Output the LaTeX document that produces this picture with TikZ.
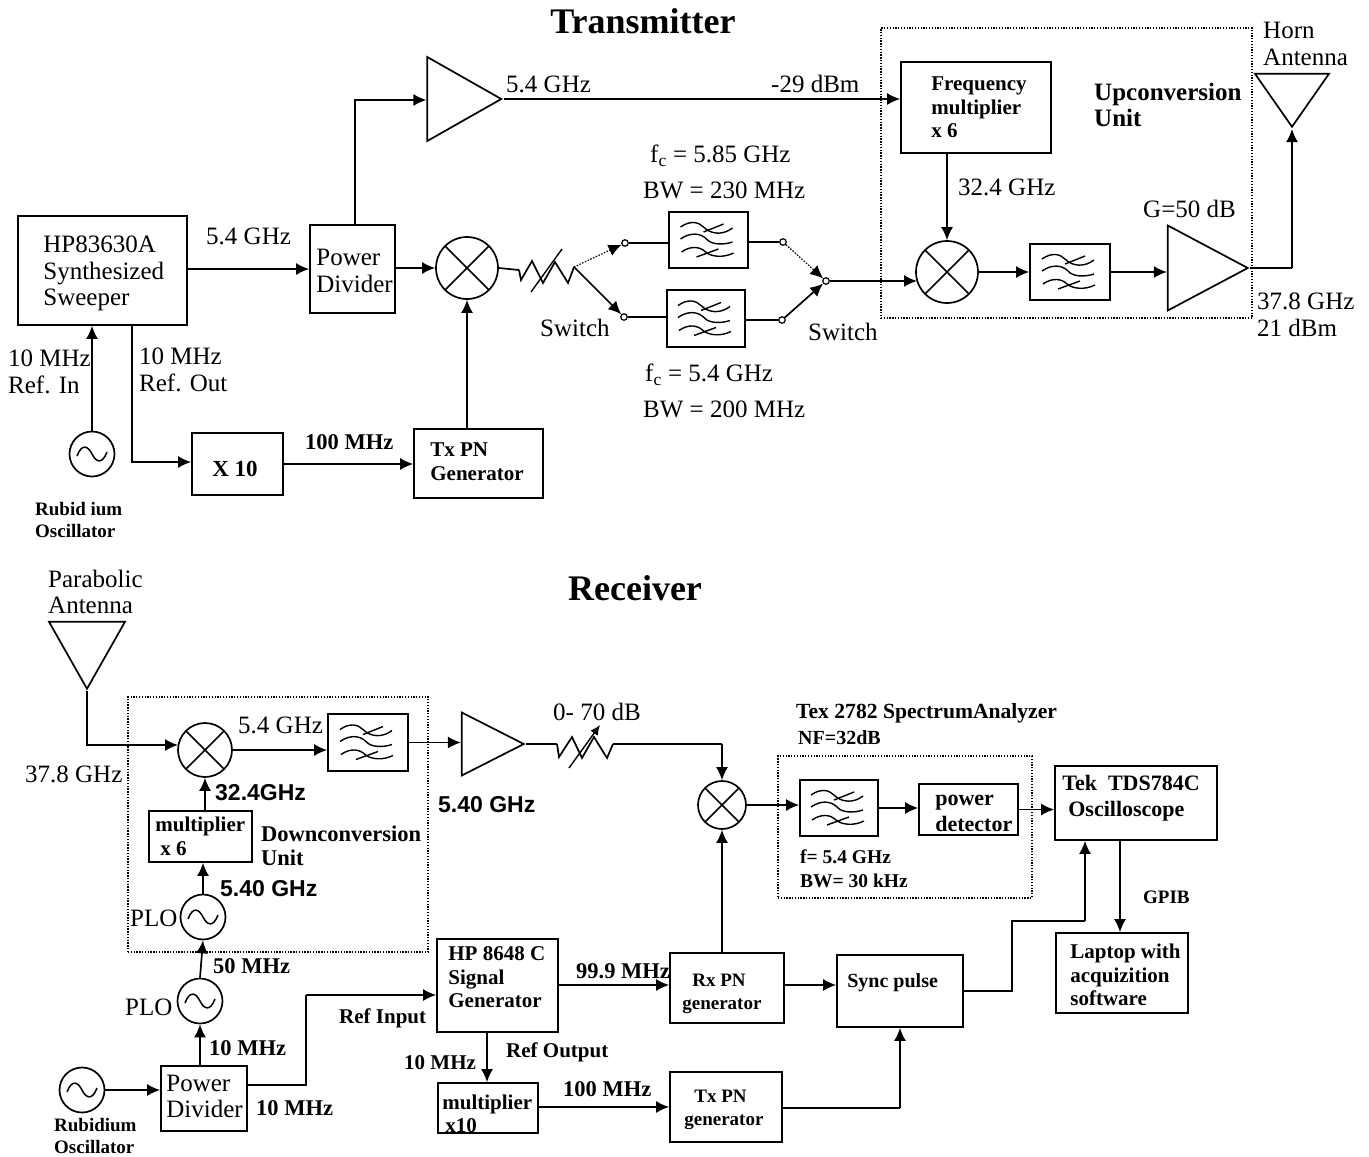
\documentclass[tikz,border=0pt]{standalone}
\usepackage{fontspec}
\setmainfont{Liberation Serif}
\newfontfamily\hvfam{Liberation Sans}
\usetikzlibrary{arrows.meta,calc,shapes.geometric}
\newcommand\tR{\fontsize{25}{26.5}\selectfont}
\newcommand\tT{\fontsize{36}{38}\selectfont\bfseries}
\newcommand\tB{\fontsize{21}{23.5}\selectfont\bfseries}
\newcommand\tC{\fontsize{19}{22.5}\selectfont\bfseries}
\newcommand\tE{\fontsize{19.5}{24}\selectfont\bfseries}
\newcommand\tF{\fontsize{22}{25.5}\selectfont\bfseries}
\newcommand\tU{\fontsize{25}{26}\selectfont\bfseries}
\newcommand\tD{\fontsize{22.5}{23.5}\selectfont\bfseries}
\newcommand\tS{\fontsize{23}{25}\selectfont\hvfam\bfseries}
\tikzset{
  wire/.style={line width=1.7pt},
  arr/.style={wire,-{Latex[length=13pt,width=12pt]}},
  dotarr/.style={line width=1.2pt,dash pattern=on 1.5pt off 1.5pt,-{Latex[length=13pt,width=12pt]}},
  boxn/.style={draw,line width=1.7pt,inner sep=0pt},
  dotbox/.style={draw,line width=1.1pt,dash pattern=on 1.3pt off 1.5pt,inner sep=0pt},
  lbl/.style={anchor=west,inner sep=0pt,align=left},
  mixer/.style={draw,circle,line width=1.7pt,inner sep=0pt,path picture={
    \draw[line width=1.7pt] (path picture bounding box.north west)--(path picture bounding box.south east);
    \draw[line width=1.7pt] (path picture bounding box.north east)--(path picture bounding box.south west);}},
  oscn/.style={draw,circle,line width=1.7pt,inner sep=0pt,minimum size=45pt,path picture={
    \draw[line width=1.5pt,shift={(path picture bounding box.center)}]
      (-15,2) .. controls (-10,-11) and (-4,-8) .. (0,0) .. controls (4,8) and (10,11) .. (15,-2);}},
  amp/.style={draw,line width=1.7pt,isosceles triangle,isosceles triangle stretches,inner sep=0pt,anchor=apex},
  sw/.style={draw,circle,line width=1.2pt,inner sep=0pt,minimum size=6.5pt,fill=white},
}
% region node from its corners
\newcommand\RG[6]{%
  \pgfmathsetmacro\myCx{(#2+#4)/2}\pgfmathsetmacro\myCy{(#3+#5)/2}%
  \pgfmathsetmacro\myW{#4-#2}\pgfmathsetmacro\myH{#5-#3}%
  \node[#6,minimum width=\myW pt,minimum height=\myH pt] (#1) at (\myCx,\myCy) {};}
% box with left aligned text at an offset from its west side
\newcommand\BX[8]{\RG{#1}{#2}{#3}{#4}{#5}{boxn}%
  \node[lbl,font=#7] (#1-t) at ($(#1.west)+(#6)$) {#8};}
% filter box
\newcommand\FLT[5]{\RG{#1}{#2}{#3}{#4}{#5}{boxn}%
  \begin{scope}[shift={(#1.center)},line width=1.4pt]
    \draw (-28,-13) .. controls (-18,-20) and (-10,-18) .. (-5,-13) .. controls (3,-5) and (15,-5) .. (24,-12);
    \draw (-28,-1) .. controls (-18,-8) and (-8,-7) .. (-2,-1) .. controls (3,5) and (15,5) .. (24,2);
    \draw (-27,12) .. controls (-17,5) and (-8,7) .. (-3,12) .. controls (3,17) and (15,18) .. (25,13);
    \draw (-5,-8)--(15,-16);
    \draw (-12,17)--(10,9);
  \end{scope}}
\newcommand\LB[5]{\node[lbl,font=#4] (#1) at (#2,#3) {#5};}
\begin{document}
\begin{tikzpicture}[x=1pt,y=-1pt]
\useasboundingbox (0,0) rectangle (1369,1157);
\fill[white] (0,0) rectangle (1369,1157);
% ===== Transmitter =====
\node[font=\tT,inner sep=0pt] (title1) at (643,21) {Transmitter};
\RG{upc}{881}{28}{1252}{318}{dotbox}
\BX{hp}{18}{216}{187}{325}{26,3}{\tR}{HP83630A\\Synthesized\\Sweeper}
\BX{pd}{310}{225}{395}{313}{7,2}{\tR}{Power\\Divider}
\BX{fm}{901}{62}{1051}{153}{31,0}{\tB}{Frequency\\multiplier\\x 6}
\BX{txpn}{414}{429}{543}{498}{17,-2}{\tB}{Tx PN\\Generator}
\BX{xten}{192}{433}{283}{495}{21,5}{\fontsize{23}{25}\selectfont\bfseries}{X 10}
\FLT{f1}{669}{212}{748}{268}
\FLT{f2}{667}{290}{745}{347}
\FLT{f3}{1030}{244}{1110}{300}
\node[mixer,minimum size=62pt] (m1) at (467,268) {};
\node[mixer,minimum size=62pt] (m2) at (947,272) {};
\node[oscn] (o1) at (92,454) {};
\node[amp,minimum width=84pt,minimum height=74pt] (a1) at (503.5,99) {};
\node[amp,minimum width=85pt,minimum height=80pt] (a2) at (1250,268) {};
\node[amp,shape border rotate=270,minimum width=74pt,minimum height=53pt] (horn) at (1292,129) {};
\node[sw] (s1) at (625,243) {};
\node[sw] (s2) at (624,317) {};
\node[sw] (s3) at (783,242) {};
\node[sw] (s4) at (782,320) {};
\node[sw] (s5) at (826,281) {};
\coordinate (at1a) at (519,270);
\coordinate (at1b) at (574,267);
\coordinate (h1) at (355,100);
\coordinate (c1) at (1292,268);
\coordinate (c2) at (132,462);
\coordinate (c3) at (917,281);
% connectors
\draw[arr] (hp.east |- pd.west) -- (pd.west);
\draw[arr] (h1 |- pd.north) -- (h1) -- (a1.west |- h1);
\draw[arr] (a1.apex) -- (fm.west |- a1.apex);
\draw[arr] (pd.east |- m1) -- (m1.west);
\draw[wire] (m1.east) -- (at1a);
\draw[wire] (at1a) -- (521,280) -- (532,261) -- (543,283) -- (555,262) -- (568,283) -- (at1b);
\draw[line width=1.4pt] (531,292) -- (562,249);
\draw[dotarr] (at1b) -- (s1);
\draw[arr] (at1b) -- (s2);
\draw[wire] (s1) -- (f1.west |- s1);
\draw[wire] (s2) -- (f2.west |- s2);
\draw[wire] (f1.east |- s3) -- (s3);
\draw[wire] (f2.east |- s4) -- (s4);
\draw[dotarr] (s3) -- (s5);
\draw[arr] (s4) -- (s5);
\draw[arr] (s5) -- (c3);
\draw[arr] (fm.south -| m2) -- (m2.north);
\draw[arr] (m2.east) -- (f3.west |- m2);
\draw[arr] (f3.east) -- (a2.west |- f3.east);
\draw[wire] (a2.apex) -- (c1);
\draw[arr] (c1) -- (horn.apex);
\draw[arr] (m1.south |- txpn.north) -- (m1.south);
\draw[arr] (xten.east) -- (txpn.west |- xten.east);
\draw[arr] (o1.north) -- (o1.north |- hp.south);
\draw[arr] (c2 |- hp.south) -- (c2) -- (xten.west |- c2);
% labels
\LB{l1}{206}{236}{\tR}{5.4 GHz}
\LB{l2}{506}{84}{\tR}{5.4 GHz}
\LB{l3}{771}{84}{\tR}{-29 dBm}
\LB{l4}{1094}{105}{\tU}{Upconversion\\Unit}
\LB{l5}{1263}{44}{\tR}{Horn\\Antenna}
\LB{l6}{958}{187}{\tR}{32.4 GHz}
\LB{l7}{1143}{209}{\tR}{G=50 dB}
\LB{l8}{1257}{315}{\tR}{37.8 GHz\\21 dBm}
\LB{l9}{8}{372}{\tR}{10 MHz\\Ref. In}
\LB{l10}{139}{370}{\tR}{10 MHz\\Ref. Out}
\LB{l11}{305}{442}{\tD}{100 MHz}
\LB{l12}{35}{520}{\tC}{Rubid ium\\Oscillator}
\LB{l13}{540}{328}{\tR}{Switch}
\LB{l14}{808}{332}{\tR}{Switch}
\LB{l15}{650}{156}{\tR}{f\textsubscript{c} = 5.85 GHz}
\LB{l16}{643}{190}{\tR}{BW = 230 MHz}
\LB{l17}{645}{375}{\tR}{f\textsubscript{c} = 5.4 GHz}
\LB{l18}{643}{409}{\tR}{BW = 200 MHz}
% ===== Receiver =====
\node[font=\tT,inner sep=0pt] (title2) at (635,588) {Receiver};
\RG{dnc}{128}{697}{428}{952}{dotbox}
\RG{sa}{778}{756}{1032}{898}{dotbox}
\node[amp,shape border rotate=270,minimum width=76pt,minimum height=67pt] (para) at (87,691) {};
\node[mixer,minimum size=54pt] (m3) at (205,750) {};
\FLT{f4}{328}{714}{408}{771}
\BX{mul6}{149}{811}{252}{862}{7,0}{\tB}{multiplier\\\hspace*{5pt}x 6}
\node[oscn] (o2) at (203,917) {};
\node[oscn] (o3) at (200,1001) {};
\node[oscn] (o4) at (82,1090) {};
\BX{pd2}{161}{1066}{247}{1131}{6,-2}{\tR}{Power\\Divider}
\BX{hp2}{437}{939}{558}{1032}{12,-8}{\tB}{HP 8648 C\\Signal\\Generator}
\BX{rx}{670}{953}{784}{1023}{13,6}{\tC}{\hspace*{10pt}Rx PN\\generator}
\BX{sync}{837}{955}{963}{1027}{11,-8}{\fontsize{20}{22}\selectfont\bfseries}{Sync pulse}
\BX{mul10}{438}{1083}{538}{1133}{5,6}{\tB}{multiplier\\\hspace*{3pt}x10}
\BX{tx2}{670}{1072}{782}{1142}{15,3}{\tC}{\hspace*{10pt}Tx PN\\generator}
\node[amp,minimum width=63pt,minimum height=62pt] (a3) at (526,744) {};
\node[mixer,minimum size=48pt] (m4) at (722,805) {};
\FLT{f5}{800}{780}{878}{836}
\BX{det}{919}{784}{1018}{835}{17,4}{\tF}{power\\detector}
\BX{tek}{1055}{766}{1217}{840}{8,-5}{\tF}{Tek\ \ TDS784C\\\hspace*{6pt}Oscilloscope}
\BX{lap}{1056}{933}{1188}{1013}{15,2}{\tB}{Laptop with\\acquizition\\software}
\coordinate (p1) at (87,745);
\coordinate (at2a) at (557,744);
\coordinate (at2b) at (613,744);
\coordinate (p2) at (722,744);
\coordinate (p3) at (306,1085);
\coordinate (p4) at (306,995);
\coordinate (p5) at (900,1108);
\coordinate (p6) at (1012,991);
\coordinate (p7) at (1012,921);
\coordinate (p8) at (1085,921);
\coordinate (p9) at (1120,900);
\coordinate (p10) at (487,1060);
\coordinate (p11) at (720,985);
\coordinate (p12) at (178,745);
% connectors
\draw[arr] (para.apex) -- (p1) -- (p12);
\draw[arr] (m3.east) -- (f4.west |- m3);
\draw[arr] (f4.east) -- (a3.west |- f4.east);
\draw[arr] (mul6.north -| m3) -- (m3.south);
\draw[arr] (o2.north) -- (o2.north |- mul6.south);
\draw[arr] (o3.north) -- (o2.south);
\draw[arr] (pd2.north -| o3) -- (o3.south);
\draw[arr] (o4.east) -- (pd2.west |- o4.east);
\draw[wire] (pd2.east |- p3) -- (p3) -- (p4);
\draw[arr] (p4) -- (hp2.west |- p4);
\draw[wire] (a3.apex) -- (at2a);
\draw[wire] (at2a) -- (559,757) -- (572,737) -- (582,758) -- (594,737) -- (607,758) -- (at2b);
\draw[line width=1.4pt,-{Latex[length=10pt,width=9pt]}] (569,768) -- (600,725);
\draw[wire] (at2b) -- (p2);
\draw[arr] (p2) -- (m4.north);
\draw[arr] (m4.east) -- (f5.west |- m4);
\draw[arr] (f5.east) -- (det.west |- f5);
\draw[arr] (det.east) -- (tek.west |- det.east);
\draw[arr] (tek.south -| p9) -- (lap.north -| p9);
\draw[arr] (hp2.east |- p11) -- (rx.west |- p11);
\draw[arr] (rx.north -| m4) -- (m4.south);
\draw[arr] (rx.east |- p11) -- (sync.west |- p11);
\draw[wire] (sync.east |- p6) -- (p6) -- (p7) -- (p8);
\draw[arr] (p8) -- (p8 |- tek.south);
\draw[arr] (hp2.south -| p10) -- (mul10.north -| p10);
\draw[arr] (mul10.east |- tx2) -- (tx2.west);
\draw[wire] (tx2.east |- p5) -- (p5);
\draw[arr] (p5) -- (p5 |- sync.south);
% labels
\LB{r1}{48}{592}{\tR}{Parabolic\\Antenna}
\LB{r2}{238}{725}{\tR}{5.4 GHz}
\LB{r3}{25}{774}{\tR}{37.8 GHz}
\LB{r4}{215}{793}{\tS}{32.4GHz}
\LB{r5}{261}{846}{\tD}{Downconversion\\Unit}
\LB{r6}{220}{889}{\tS}{5.40 GHz}
\LB{r7}{130}{918}{\tR}{PLO}
\LB{r8}{125}{1007}{\tR}{PLO}
\LB{r9}{213}{966}{\tD}{50 MHz}
\LB{r10}{209}{1048}{\tD}{10 MHz}
\LB{r11}{54}{1136}{\tC}{Rubidium\\Oscillator}
\LB{r12}{256}{1108}{\tD}{10 MHz}
\LB{r13}{339}{1018}{\tB}{Ref Input}
\LB{r14}{438}{805}{\tS}{5.40 GHz}
\LB{r15}{553}{712}{\tR}{0- 70 dB}
\LB{r16}{576}{971}{\tD}{99.9 MHz}
\LB{r17}{506}{1052}{\tB}{Ref Output}
\LB{r18}{404}{1063}{\tB}{10 MHz}
\LB{r19}{563}{1089}{\tD}{100 MHz}
\LB{r20}{796}{713}{\fontsize{21.6}{23}\selectfont\bfseries}{Tex 2782 SpectrumAnalyzer}
\LB{r21}{798}{738}{\fontsize{20}{22}\selectfont\bfseries}{NF=32dB}
\LB{r22}{800}{869}{\tE}{f= 5.4 GHz\\BW= 30 kHz}
\LB{r23}{1143}{897}{\tC}{GPIB}
\end{tikzpicture}
\end{document}
